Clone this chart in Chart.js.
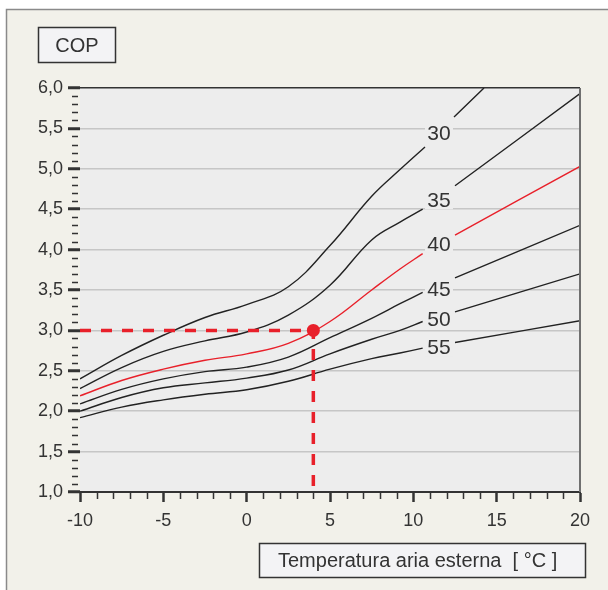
<!DOCTYPE html>
<html>
<head>
<meta charset="utf-8">
<script src="https://cdn.jsdelivr.net/npm/chart.js@4.4.1/dist/chart.umd.min.js"></script>
<style>
  html, body { margin: 0; padding: 0; background: #fff; }
  canvas { display: block; }
</style>
</head>
<body>
<canvas id="copChart" width="608" height="590"></canvas>
<script>
// flow temperature curves (°C) and COP vs outdoor air temperature
const curveNames = ["30", "35", "40", "45", "50", "55"];

const temp30 = [-10, -7.5, -5, -2.5, 0, 2.5, 5, 7.5, 9.2, 10.7, 11.5, 12.44, 14.24];
const cop30 = [2.40, 2.69, 2.94, 3.16, 3.32, 3.54, 4.05, 4.66, 4.99, 5.27, null, 5.64, 6.0];

const temps = [-10, -7.5, -5, -2.5, 0, 2.5, 5, 7.5, 9.2, 10.56, 11.5, 12.5, 20];
const cop35 = [2.28, 2.54, 2.74, 2.87, 2.98, 3.19, 3.56, 4.12, 4.34, 4.50, null, 4.79, 5.93];
const cop40 = [2.19, 2.38, 2.52, 2.63, 2.71, 2.84, 3.11, 3.50, 3.76, 3.95, null, 4.18, 5.03];
const cop45 = [2.09, 2.27, 2.40, 2.49, 2.545, 2.67, 2.91, 3.15, 3.33, 3.47, null, 3.65, 4.30];
const cop50 = [2.00, 2.17, 2.29, 2.35, 2.41, 2.51, 2.71, 2.89, 3.00, 3.11, null, 3.23, 3.70];
const cop55 = [1.92, 2.05, 2.14, 2.21, 2.265, 2.37, 2.52, 2.65, 2.72, 2.78, null, 2.85, 3.12];

// reading example: 4 °C outdoor, 40 °C flow -> COP 3,0
const opTemp = [-10, 4, 4];
const opCop = [3.0, 3.0, 1.0];

// where the curve names sit (temperature, COP)
const nameTemp = 11.54;
const nameCop = [5.44, 4.61, 4.07, 3.51, 3.14, 2.79];

const FONT = "'Liberation Sans', Arial, sans-serif";
const INK = "#333333";
const RED = "#e8202a";
const PLOT_BG = "#ededed";

function pts(xs, ys) {
    return xs.map((x, i) => ({ x: x, y: ys[i] }));
}

function curve(name, xs, ys, color) {
    return {
        label: name,
        data: pts(xs, ys),
        borderColor: color,
        borderWidth: 1.4,
        pointRadius: 0,
        tension: 0.4,
        spanGaps: false,
        order: 2
    };
}

const framePlugin = {
    id: "frame",
    beforeDraw(chart) {
        const c = chart.ctx;
        const a = chart.chartArea;
        c.save();
        c.fillStyle = "#ffffff";
        c.fillRect(0, 0, chart.width, chart.height);
        c.fillStyle = "#f2f1ea";
        c.fillRect(6, 9, chart.width - 6, chart.height - 9);
        c.strokeStyle = "#8a8a8a";
        c.lineWidth = 1.5;
        c.beginPath();
        c.moveTo(6.5, chart.height);
        c.lineTo(6.5, 9.5);
        c.lineTo(chart.width, 9.5);
        c.stroke();
        c.fillStyle = PLOT_BG;
        c.fillRect(a.left, a.top, a.right - a.left, a.bottom - a.top);

        // axis title boxes
        c.fillStyle = "#f3f3f5";
        c.strokeStyle = INK;
        c.lineWidth = 1.5;
        c.fillRect(38.5, 27.5, 77, 35);
        c.strokeRect(38.5, 27.5, 77, 35);
        c.fillRect(259.5, 543.5, 326, 34);
        c.strokeRect(259.5, 543.5, 326, 34);
        c.fillStyle = INK;
        c.font = "20px " + FONT;
        c.textBaseline = "middle";
        c.textAlign = "center";
        c.fillText("COP", 77, 46);
        c.textAlign = "left";
        c.fillText("Temperatura aria esterna  [ °C ]", 278, 561);
        c.restore();
    },
    afterDatasetsDraw(chart) {
        const c = chart.ctx;
        const a = chart.chartArea;
        const xs = chart.scales.x;
        const ys = chart.scales.y;
        c.save();
        // right border of the plot
        c.strokeStyle = "#707070";
        c.lineWidth = 2;
        c.beginPath();
        c.moveTo(a.right, a.top);
        c.lineTo(a.right, a.bottom);
        c.stroke();

        // minor ticks
        c.strokeStyle = INK;
        c.lineWidth = 1.5;
        c.beginPath();
        for (let i = 10; i <= 60; i++) {
            if (i % 5 === 0) continue;
            const y = Math.round(ys.getPixelForValue(i / 10)) + 0.5;
            c.moveTo(a.left - 8, y);
            c.lineTo(a.left - 2, y);
        }
        for (let t = -10; t <= 20; t++) {
            if (t % 5 === 0) continue;
            const x = Math.round(xs.getPixelForValue(t)) + 0.5;
            c.moveTo(x, a.bottom);
            c.lineTo(x, a.bottom + 7);
        }
        c.stroke();

        // curve names
        c.font = "21px " + FONT;
        c.textAlign = "center";
        c.textBaseline = "middle";
        curveNames.forEach((name, i) => {
            const x = xs.getPixelForValue(nameTemp);
            const y = ys.getPixelForValue(nameCop[i]);
            c.fillStyle = PLOT_BG;
            c.fillRect(x - 14, y - 9, 28, 18);
            c.fillStyle = INK;
            c.fillText(name, x, y + 1);
        });
        c.restore();
    }
};

const ctx = document.getElementById("copChart").getContext("2d");

const copChart = new Chart(ctx, {
    type: "line",
    data: {
        datasets: [
            {
                label: "punto",
                data: pts(opTemp, opCop),
                borderColor: RED,
                borderWidth: 3.5,
                borderDash: [11, 10],
                pointRadius: [0, 6.5, 0],
                pointBackgroundColor: RED,
                pointBorderWidth: 0,
                tension: 0,
                order: 1
            },
            curve(curveNames[0], temp30, cop30, "#222222"),
            curve(curveNames[1], temps, cop35, "#222222"),
            curve(curveNames[2], temps, cop40, RED),
            curve(curveNames[3], temps, cop45, "#222222"),
            curve(curveNames[4], temps, cop50, "#222222"),
            curve(curveNames[5], temps, cop55, "#222222")
        ]
    },
    options: {
        responsive: false,
        animation: false,
        layout: { padding: { left: 0, top: 88, right: 28, bottom: 58 } },
        plugins: {
            legend: { display: false },
            tooltip: { enabled: false }
        },
        scales: {
            x: {
                type: "linear",
                min: -10,
                max: 20,
                afterFit(scale) { scale.height = 40; },
                ticks: {
                    stepSize: 5,
                    padding: 8,
                    color: INK,
                    font: { family: FONT, size: 18 }
                },
                grid: {
                    drawOnChartArea: false,
                    drawTicks: true,
                    tickLength: 10,
                    tickWidth: 2.5,
                    tickColor: INK
                },
                border: { display: true, color: INK, width: 2 }
            },
            y: {
                type: "linear",
                min: 1,
                max: 6,
                afterFit(scale) { scale.width = 80; },
                ticks: {
                    stepSize: 0.5,
                    padding: 5,
                    color: INK,
                    font: { family: FONT, size: 18 },
                    callback: (v) => v.toFixed(1).replace(".", ",")
                },
                grid: {
                    color: (c) => {
                        const v = c.tick ? c.tick.value : 0;
                        if (Math.abs(v - 6) < 1e-6) return INK;
                        if (Math.abs(v - 1) < 1e-6) return "rgba(0,0,0,0)";
                        return "#c6c6c6";
                    },
                    lineWidth: 1.5,
                    drawTicks: true,
                    tickLength: 12,
                    tickWidth: 3,
                    tickColor: INK
                },
                border: { display: false }
            }
        }
    },
    plugins: [framePlugin]
});
</script>
</body>
</html>
